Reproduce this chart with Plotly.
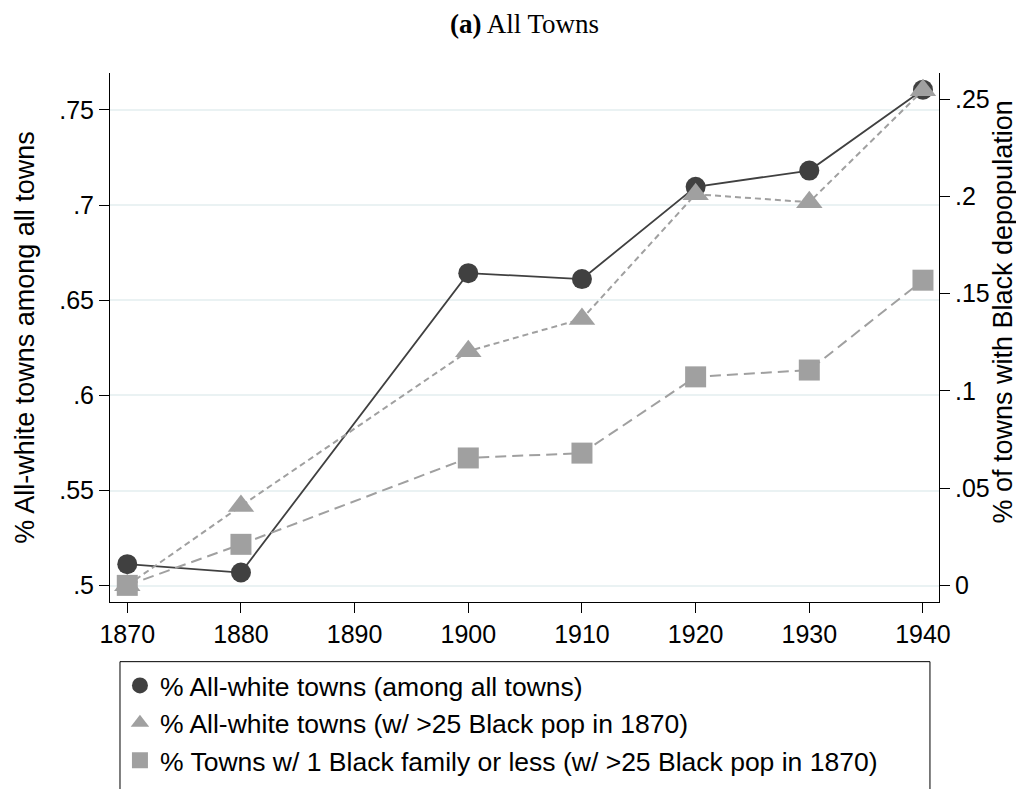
import plotly.graph_objects as go

# ---- data ----
years = [1870, 1880, 1900, 1910, 1920, 1930, 1940]
share_all_white = [0.5113, 0.5069, 0.6642, 0.6611, 0.7096, 0.7181, 0.7606]
share_all_white_25 = [0.0, 0.0408, 0.1204, 0.1370, 0.2011, 0.1970, 0.2545]
share_one_family_25 = [0.0, 0.0211, 0.0655, 0.0680, 0.1072, 0.1107, 0.1569]

x_ticks = [1870, 1880, 1890, 1900, 1910, 1920, 1930, 1940]
left_ticks = [0.5, 0.55, 0.6, 0.65, 0.7, 0.75]
left_labels = [".5", ".55", ".6", ".65", ".7", ".75"]
right_ticks = [0, 0.05, 0.1, 0.15, 0.2, 0.25]
right_labels = ["0", ".05", ".1", ".15", ".2", ".25"]

legend_names = [
    "% All-white towns (among all towns)",
    "% All-white towns (w/ >25 Black pop in 1870)",
    "% Towns w/ 1 Black family or less (w/ >25 Black pop in 1870)",
]
left_title = "% All-white towns among all towns"
right_title = "% of towns with Black depopulation"

DARK = "#404040"
GRAY = "#a0a0a0"
SANS = "Liberation Sans, Arial, Helvetica, sans-serif"
SERIF = "Liberation Serif, Times New Roman, serif"

fig = go.Figure()

fig.add_trace(go.Scatter(
    x=years, y=share_all_white, yaxis="y", mode="lines+markers",
    line=dict(color=DARK, width=1.8),
    marker=dict(symbol="circle", size=20, color=DARK, line=dict(width=0)),
    showlegend=False, cliponaxis=False))
fig.add_trace(go.Scatter(
    x=years, y=share_all_white_25, yaxis="y2", mode="lines+markers",
    line=dict(color=GRAY, width=2, dash="6px,4px"),
    marker=dict(symbol="triangle-up", size=23, color=GRAY, line=dict(width=0)),
    showlegend=False, cliponaxis=False))
fig.add_trace(go.Scatter(
    x=years, y=share_one_family_25, yaxis="y2", mode="lines+markers",
    line=dict(color=GRAY, width=2, dash="11px,6px"),
    marker=dict(symbol="square", size=21, color=GRAY, line=dict(width=0)),
    showlegend=False, cliponaxis=False))

# legend entries (markers only, as in the reference)
for name, sym, col in zip(legend_names, ["circle", "triangle-up", "square"], [DARK, GRAY, GRAY]):
    fig.add_trace(go.Scatter(
        x=[None], y=[None], mode="markers", name=name, yaxis="y",
        marker=dict(symbol=sym, size=18, color=col, line=dict(width=0)),
        showlegend=True, legendgroup=name))

fig.update_layout(
    width=1024, height=789,
    margin=dict(l=102, r=93, t=65, b=183, pad=0),
    paper_bgcolor="white", plot_bgcolor="white",
    font=dict(family=SANS, size=25, color="black"),
    title=dict(text="<b>(a)</b> All Towns", font=dict(family=SERIF, size=27, color="black"),
               x=0.5, xref="paper", xanchor="center", y=1 - 6 / 789, yref="container",
               yanchor="top"),
    xaxis=dict(range=[1868.48, 1941.41], tickvals=x_ticks, ticks="outside", ticklen=10,
               tickwidth=1, tickcolor="black", showline=True, linecolor="black", linewidth=1,
               showgrid=False, zeroline=False, tickfont=dict(size=25)),
    yaxis=dict(range=[0.49142, 0.76937], tickvals=left_ticks, ticktext=left_labels,
               ticks="outside", ticklen=10, tickwidth=1, tickcolor="black",
               showline=True, linecolor="black", linewidth=1,
               showgrid=True, gridcolor="#eaf2f3", gridwidth=1.5, zeroline=False,
               tickfont=dict(size=25),
               title=dict(text=left_title, font=dict(size=27), standoff=16)),
    yaxis2=dict(overlaying="y", side="right", range=[-0.00855, 0.26342],
                tickvals=right_ticks, ticktext=right_labels,
                ticks="outside", ticklen=10, tickwidth=1, tickcolor="black",
                showline=True, linecolor="black", linewidth=1,
                showgrid=False, zeroline=False, tickfont=dict(size=25)),
    legend=dict(x=0.012, y=-0.1128, xanchor="left", yanchor="top",
                bgcolor="rgba(0,0,0,0)", borderwidth=0, font=dict(size=26.5, family=SANS),
                tracegroupgap=0, traceorder="grouped"),
    annotations=[dict(text=right_title, textangle=-90, xref="paper", yref="paper",
                      x=(995 - 102) / 829, y=(606 - 310) / 541, xanchor="center",
                      yanchor="middle", showarrow=False, font=dict(size=27, family=SANS))],
    shapes=[dict(type="rect", xref="paper", yref="paper", x0=0.01206, x1=0.9891,
                 y0=-0.6, y1=-0.1128, line=dict(color="black", width=1),
                 fillcolor="rgba(0,0,0,0)", layer="above")],
)

fig.write_html("out.html")
